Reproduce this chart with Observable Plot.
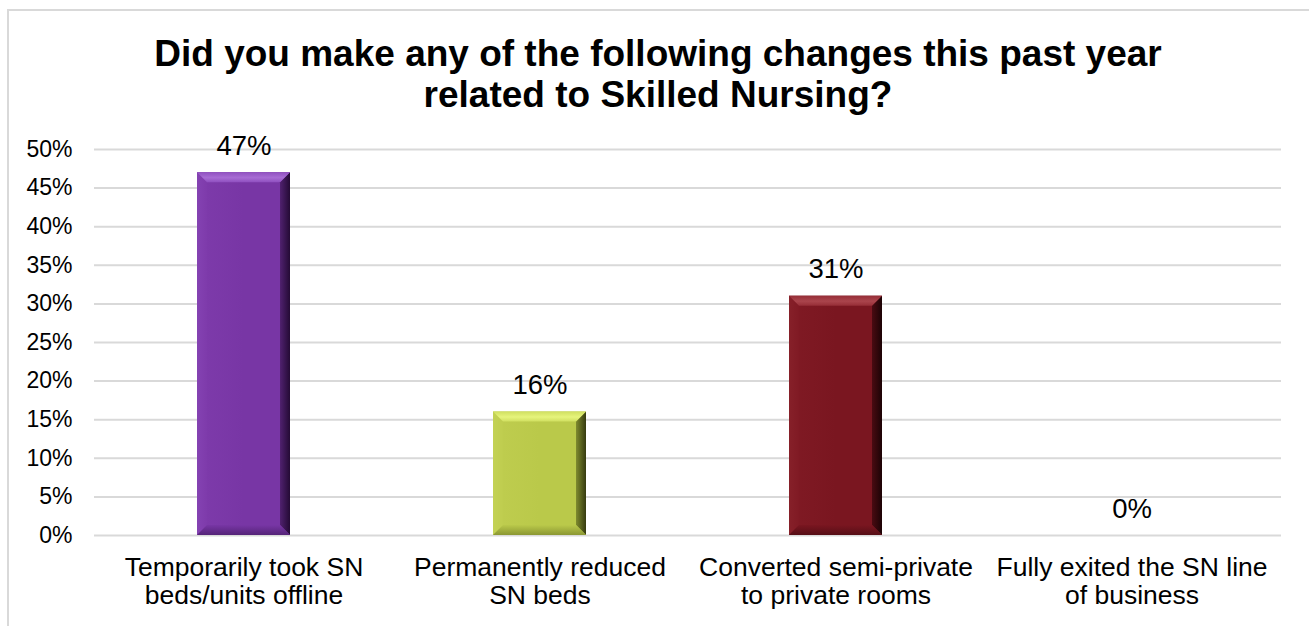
<!DOCTYPE html>
<html><head><meta charset="utf-8">
<script src="https://cdn.jsdelivr.net/npm/d3@7"></script>
<script src="https://cdn.jsdelivr.net/npm/@observablehq/plot@0.6"></script>
<style>
body{margin:0;background:#fff;width:1309px;height:626px;overflow:hidden;position:relative;font-family:"Liberation Sans",Arial,sans-serif;}
#frame{position:absolute;left:7px;top:9px;width:1330px;height:650px;border:2px solid #d9d9d9;box-sizing:border-box}
#title{position:absolute;left:8px;width:1300px;top:33px;text-align:center;font-weight:bold;font-size:37px;line-height:41px;color:#000}
#chart{position:absolute;left:0;top:120px}
</style></head><body>
<div id="frame"></div>
<div id="title">Did you make any of the following changes this past year<br>related to Skilled Nursing?</div>
<div id="chart"></div>
<script>
// ---- data ----
const categories = [
  "Temporarily took SN\nbeds/units offline",
  "Permanently reduced\nSN beds",
  "Converted semi-private\nto private rooms",
  "Fully exited the SN line\nof business"
];
const values = [47, 16, 31, 0];
const valueLabels = ["47%", "16%", "31%", "0%"];
const yTicks = [0, 5, 10, 15, 20, 25, 30, 35, 40, 45, 50];
const yTickLabels = ["0%", "5%", "10%", "15%", "20%", "25%", "30%", "35%", "40%", "45%", "50%"];

// ---- styles ----
const palettes = [
  {face:"#7836a5", faceL:"#7e3bab", top:"#9050c0", hi:"#a76cd4", left:"#8442b2", right1:"#50216f", right2:"#240a35", bottom:"#552478"},
  {face:"#bac94a", faceL:"#bfcd4f", top:"#d0df60", hi:"#e6f47c", left:"#c3d254", right1:"#7f8b2e", right2:"#363b10", bottom:"#8b9733"},
  {face:"#7a1620", faceL:"#801a24", top:"#962e37", hi:"#aa444c", left:"#862029", right1:"#4a0b12", right2:"#1c0305", bottom:"#560e16"}
];

const data = categories.map((c, i) => ({category: c, value: values[i], label: valueLabels[i], key: i}));
const bars = data.filter(d => d.value > 0);

function bevel(index, scales, vals, dims, ctx, next) {
  const g = next(index, scales, vals, dims, ctx);
  const b = 10;
  d3.select(g).selectAll("rect").each(function(i) {
    const r = d3.select(this);
    const x = +r.attr("x"), y = +r.attr("y"), w = +r.attr("width"), h = +r.attr("height");
    const k = bars[i].key;
    const parent = d3.select(this.parentNode);
    const bb = Math.min(b, h / 2);
    const poly = (pts, fill) => parent.append("polygon").attr("points", pts.map(p => p.join(",")).join(" ")).attr("fill", fill);
    poly([[x, y], [x + b, y + bb], [x + b, y + h - bb], [x, y + h]], `url(#left${k})`);
    poly([[x + w, y], [x + w, y + h], [x + w - b, y + h - bb], [x + w - b, y + bb]], `url(#right${k})`);
    poly([[x, y], [x + w, y], [x + w - b, y + bb], [x + b, y + bb]], `url(#top${k})`);
    poly([[x, y + h], [x + b, y + h - bb], [x + w - b, y + h - bb], [x + w, y + h]], `url(#bottom${k})`);
  });
  return g;
}

const chart = Plot.plot({
  width: 1309,
  height: 506,
  marginTop: 29,
  marginBottom: 91,
  marginLeft: 94,
  marginRight: 28,
  x: {domain: categories, paddingInner: 0.6866, paddingOuter: 0.3433, axis: null},
  y: {domain: [0, 50], axis: null},
  style: {fontFamily: "'Liberation Sans', Arial, sans-serif", background: "transparent", color: "#000"},
  marks: [
    Plot.ruleY(yTicks, {stroke: "#d9d9d9", strokeWidth: 2}),
    Plot.text(yTicks, {y: d => d, text: (d, i) => yTickLabels[i], frameAnchor: "left", textAnchor: "end", dx: -22, fontSize: 23, fill: "#000"}),
    Plot.barY(bars, {x: "category", y: "value", fill: d => `url(#face${d.key})`, render: bevel}),
    Plot.text(data, {x: "category", y: "value", text: "label", dy: -26.6, fontSize: 27.5, fill: "#000"}),
    Plot.text(data, {x: "category", y: () => 0, text: "category", lineAnchor: "top", lineHeight: 1.03, dy: 21.6, fontSize: 26.5, fill: "#000"})
  ],
  color: {type: "identity"}
});

const svg = d3.select(chart);
const defs = svg.insert("defs", ":first-child");
palettes.forEach((p, k) => {
  const lg = (id, x2, y2, stops) => {
    const g = defs.append("linearGradient").attr("id", id).attr("x1", 0).attr("y1", 0).attr("x2", x2).attr("y2", y2);
    stops.forEach(([o, c]) => g.append("stop").attr("offset", o).attr("stop-color", c));
  };
  lg(`face${k}`, 1, 0, [[0, p.faceL], [0.5, p.face], [1, p.face]]);
  lg(`left${k}`, 1, 0, [[0, p.left], [1, p.faceL]]);
  lg(`right${k}`, 1, 0, [[0, p.right1], [1, p.right2]]);
  lg(`top${k}`, 0, 1, [[0, p.top], [0.55, p.hi], [1, p.top]]);
  lg(`bottom${k}`, 0, 1, [[0, p.face], [1, p.bottom]]);
});

document.getElementById("chart").appendChild(chart);
</script>
</body></html>
